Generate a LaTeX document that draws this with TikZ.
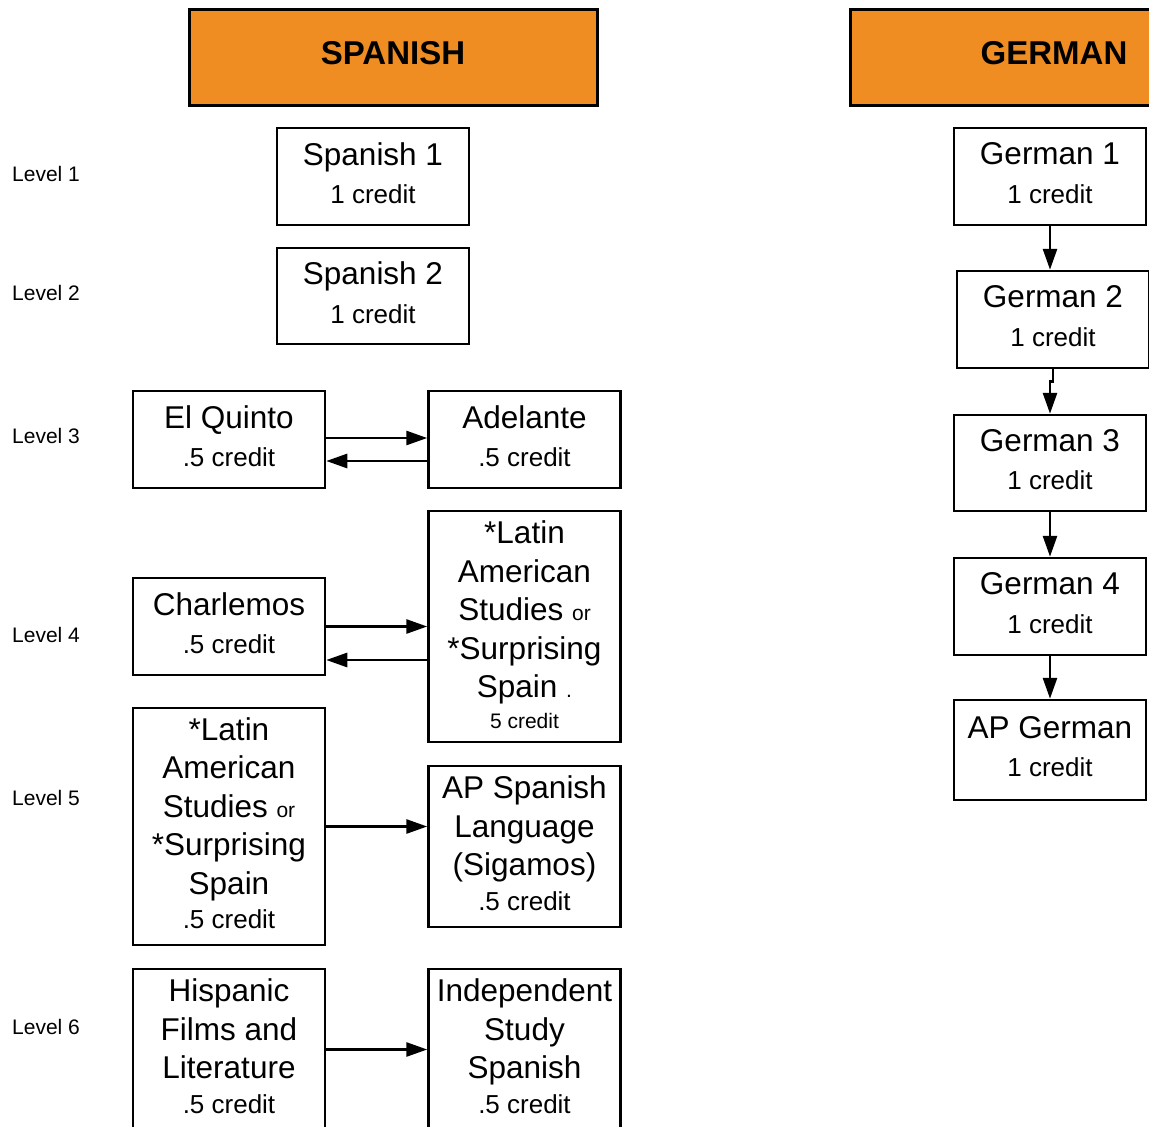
\documentclass[tikz,border=0pt]{standalone}
\usepackage{fontspec}
\setmainfont{Liberation Sans}
\usetikzlibrary{arrows.meta}
\definecolor{hdrorange}{HTML}{EF8D22}
\newcommand{\cred}[1]{{\fontsize{26}{30}\selectfont #1\rule[-7pt]{0pt}{1pt}}}
\newcommand{\sml}[1]{{\fontsize{21}{25}\selectfont #1}}
\tikzset{
  crs/.style={draw,line width=2.5pt,minimum width=192pt,align=center,inner sep=0pt,font=\fontsize{31.5}{38.5}\selectfont},
  hdr/.style={draw,line width=3pt,fill=hdrorange,minimum width=408pt,minimum height=96pt,text depth=9pt,font=\fontsize{33}{40}\selectfont\bfseries},
  lvl/.style={anchor=west,inner sep=0pt,font=\fontsize{21}{25}\selectfont},
  link/.style={line width=2.8pt,-{Triangle[length=21pt,width=14pt]}}
}
\begin{document}
\begin{tikzpicture}[x=1pt,y=-1pt]
			\useasboundingbox (0,0) rectangle (1149,1127);

			\node (sphdr) at (393,57)[hdr]{SPANISH};
			\node (gehdr) at (1054,57)[hdr]{GERMAN};

			\node (lv1) at (12,174)[lvl]{Level 1};
			\node (lv2) at (12,293)[lvl]{Level 2};
			\node (lv3) at (12,436)[lvl]{Level 3};
			\node (lv4) at (12,635)[lvl]{Level 4};
			\node (lv5) at (12,798)[lvl]{Level 5};
			\node (lv6) at (12,1027)[lvl]{Level 6};

			\node (sp1) at (373,176.5)[crs,minimum height=97pt]{Spanish 1\\\cred{1 credit}};
			\node (sp2) at (373,296)[crs,minimum height=96pt]{Spanish 2\\\cred{1 credit}};

			\node (quinto) at (229,439.5)[crs,minimum height=97pt]{El Quinto\\\cred{.5 credit}};
			\node (adel) at (524.5,439.5)[crs,minimum height=97pt]{Adelante\\\cred{.5 credit}};

			\node (charl) at (229,626.5)[crs,minimum height=97pt]{Charlemos\\\cred{.5 credit}};
			\node (latinR) at (524.5,626.5)[crs,minimum height=231pt]{*Latin\\American\\Studies \sml{or}\\*Surprising\\Spain \sml{.}\\[-8pt]\sml{5 credit\rule[-4pt]{0pt}{1pt}}};

			\node (latinL) at (229,826.5)[crs,minimum height=237pt]{*Latin\\American\\Studies \sml{or}\\*Surprising\\Spain\\[-4pt]\cred{.5 credit}};
			\node (apsp) at (524.5,846.5)[crs,minimum height=161pt]{AP Spanish\\Language\\(Sigamos)\\[-4pt]\cred{.5 credit}};

			\node (hisp) at (229,1049.5)[crs,minimum height=161pt]{Hispanic\\Films and\\Literature\\[-4pt]\cred{.5 credit}};
			\node (indep) at (524.5,1049.5)[crs,minimum height=161pt]{Independent\\Study\\Spanish\\[-4pt]\cred{.5 credit}};

			\node (ge1) at (1050,176.5)[crs,minimum height=97pt]{German 1\\\cred{1 credit}};
			\node (ge2) at (1053,319.5)[crs,minimum height=97pt]{German 2\\\cred{1 credit}};
			\node (ge3) at (1050,463)[crs,minimum height=96pt]{German 3\\\cred{1 credit}};
			\node (ge4) at (1050,606.5)[crs,minimum height=97pt]{German 4\\\cred{1 credit}};
			\node (apge) at (1050,750)[crs,minimum height=100pt]{AP German\\\cred{1 credit}};

			\draw[link] ([yshift=1.5pt]quinto.east) -- ([yshift=1.5pt]adel.west);
			\draw[link] ([yshift=-21.5pt]adel.west) -- ([yshift=-21.5pt]quinto.east);
			\draw[link] (charl.east) -- (charl.east -| latinR.west);
			\draw[link] ([yshift=-33.5pt]latinR.west) -- ([yshift=-33.5pt]latinR.west -| charl.east);
			\draw[link] (latinL.east) -- (latinL.east -| apsp.west);
			\draw[link] (hisp.east) -- (indep.west);

			\draw[link] (ge1.south) -- (ge1.south |- ge2.north);
			\draw[link] (ge2.south) -- ++(0,12) -| (ge3.north);
			\draw[link] (ge3.south) -- (ge4.north);
			\draw[link] (ge4.south) -- (apge.north);
		\end{tikzpicture}
\end{document}
